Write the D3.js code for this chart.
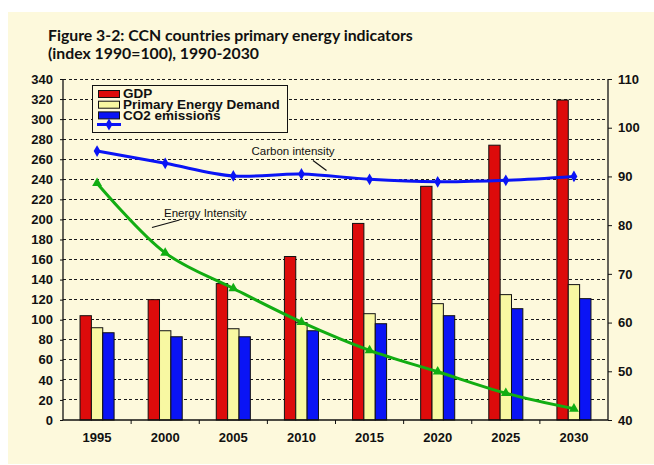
<!DOCTYPE html>
<html>
<head>
<meta charset="utf-8">
<script src="https://cdn.jsdelivr.net/npm/d3@7"></script>
<style>
  html, body { margin: 0; padding: 0; background: #ffffff; }
  svg { display: block; }
</style>
</head>
<body>
<svg id="chart" width="654" height="465"></svg>
<script>
// Years on the category axis
const years = ["1995", "2000", "2005", "2010", "2015", "2020", "2025", "2030"];

// Bar series (left axis, index 1990=100)
const gdp = [104, 120, 136, 163, 196, 233, 274, 319];
const primaryEnergyDemand = [92, 89, 91, 97, 106, 116, 125, 135];
const co2Emissions = [87, 83, 83, 89, 96, 104, 111, 121];

// Line series (right axis)
const carbonIntensity = [95.2, 92.7, 90.1, 90.5, 89.4, 88.9, 89.2, 90.0];
const energyIntensity = [88.6, 74.3, 67.0, 60.1, 54.3, 49.9, 45.5, 42.3];

// Axis ticks
const leftTicks = d3.range(0, 341, 20);
const rightTicks = d3.range(40, 111, 10);

const barSeries = [
  { name: "GDP", values: gdp, color: "#dd0b0b" },
  { name: "Primary Energy Demand", values: primaryEnergyDemand, color: "#f8f8a2" },
  { name: "CO2 emissions", values: co2Emissions, color: "#0a14f5" }
];

const svg = d3.select("#chart");
const bg = "#fdf9dc";

// Panel background
svg.append("rect").attr("x", 8).attr("y", 12).attr("width", 646).attr("height", 452).attr("fill", bg);

// Title
const title = svg.append("text")
  .attr("font-family", "Lato, 'Open Sans', sans-serif")
  .attr("font-weight", "bold")
  .attr("font-size", 15.8)
  .attr("fill", "#111");
title.append("tspan").attr("x", 48).attr("y", 41).text("Figure 3-2: CCN countries primary energy indicators");
title.append("tspan").attr("x", 48).attr("y", 58.5).text("(index 1990=100), 1990-2030");

const plotLeft = 63, plotRight = 608, plotTop = 79, plotBottom = 420;

const x0 = d3.scaleBand().domain(years).range([plotLeft, plotRight]).paddingInner(0.5).paddingOuter(0.25);
const x1 = d3.scaleBand().domain(barSeries.map(s => s.name)).range([0, x0.bandwidth()]);
const yL = d3.scaleLinear().domain([0, 340]).range([plotBottom, plotTop]);
const yR = d3.scaleLinear().domain([40, 110]).range([plotBottom, plotTop]);
const step = x0.step();
const cx = y => x0(y) + x0.bandwidth() / 2;

// Dashed gridlines at every left-axis tick
svg.append("g").selectAll("line")
  .data(leftTicks.filter(t => t > 0))
  .join("line")
  .attr("x1", plotLeft).attr("x2", plotRight)
  .attr("y1", d => yL(d)).attr("y2", d => yL(d))
  .attr("stroke", "#1a1a1a").attr("stroke-width", 1)
  .attr("stroke-dasharray", "3,2.5")
  .attr("shape-rendering", "crispEdges");

// Bars
const groups = svg.append("g").selectAll("g")
  .data(years)
  .join("g")
  .attr("transform", d => `translate(${x0(d)},0)`);

groups.selectAll("rect")
  .data((d, i) => barSeries.map(s => ({ s, v: s.values[i] })))
  .join("rect")
  .attr("x", d => x1(d.s.name))
  .attr("y", d => yL(d.v))
  .attr("width", x1.bandwidth())
  .attr("height", d => yL(0) - yL(d.v))
  .attr("fill", d => d.s.color)
  .attr("stroke", "#111")
  .attr("stroke-width", 1);

// Axes
const fontAxis = "'Liberation Sans', Arial, sans-serif";
const leftAxis = svg.append("g")
  .attr("transform", `translate(${plotLeft},0)`)
  .call(d3.axisLeft(yL).tickValues(leftTicks).tickSize(3).tickPadding(7));
const rightAxis = svg.append("g")
  .attr("transform", `translate(${plotRight},0)`)
  .call(d3.axisRight(yR).tickValues(rightTicks).tickSize(4).tickPadding(6));
const bottomAxis = svg.append("g")
  .attr("transform", `translate(0,${plotBottom})`)
  .call(d3.axisBottom(x0).tickSize(0).tickPadding(13));

[leftAxis, rightAxis, bottomAxis].forEach(g => {
  g.selectAll("text")
    .attr("font-family", fontAxis)
    .attr("font-weight", "bold")
    .attr("font-size", 13)
    .attr("fill", "#111");
  g.selectAll("line").attr("stroke", "#111");
  g.select(".domain").attr("stroke", "#111").attr("stroke-width", 1.3);
});
leftAxis.select(".domain").attr("d", `M0,${plotTop}V${plotBottom}`);
rightAxis.select(".domain").attr("d", `M0,${plotTop}V${plotBottom}`);
bottomAxis.select(".domain").attr("d", `M${plotLeft},0H${plotRight}`);

// Category separator ticks on the x axis
svg.append("g").selectAll("line")
  .data(years.slice(1))
  .join("line")
  .attr("x1", d => x0(d) - step * 0.25).attr("x2", d => x0(d) - step * 0.25)
  .attr("y1", plotBottom).attr("y2", plotBottom + 4)
  .attr("stroke", "#111");

// Line series on the right axis
const lineGen = d3.line()
  .x((d, i) => cx(years[i]))
  .y(d => yR(d))
  .curve(d3.curveCatmullRom.alpha(0.5));

svg.append("path")
  .datum(energyIntensity)
  .attr("d", lineGen)
  .attr("fill", "none")
  .attr("stroke", "#12ad12")
  .attr("stroke-width", 3);

svg.append("path")
  .datum(carbonIntensity)
  .attr("d", lineGen)
  .attr("fill", "none")
  .attr("stroke", "#0a14f5")
  .attr("stroke-width", 3);

const tri = d3.symbol().type(d3.symbolTriangle).size(42);
const dia = d3.symbol().type(d3.symbolDiamond).size(40);

svg.append("g").selectAll("path")
  .data(energyIntensity)
  .join("path")
  .attr("d", tri)
  .attr("transform", (d, i) => `translate(${cx(years[i])},${yR(d)})`)
  .attr("fill", "#12ad12");

svg.append("g").selectAll("path")
  .data(carbonIntensity)
  .join("path")
  .attr("d", dia)
  .attr("transform", (d, i) => `translate(${cx(years[i])},${yR(d)})`)
  .attr("fill", "#0a14f5");

// Annotations
const annoFont = "'Liberation Sans', Arial, sans-serif";
svg.append("text").attr("x", 251.5).attr("y", 155)
  .attr("font-family", annoFont).attr("font-size", 11.5).attr("fill", "#111")
  .text("Carbon intensity");
svg.append("line").attr("x1", 313).attr("y1", 160.5).attr("x2", 326.5).attr("y2", 170.5)
  .attr("stroke", "#111").attr("stroke-width", 1.2);
svg.append("text").attr("x", 164).attr("y", 217)
  .attr("font-family", annoFont).attr("font-size", 11.5).attr("fill", "#111")
  .text("Energy Intensity");
svg.append("line").attr("x1", 152).attr("y1", 227.5).attr("x2", 179.5).attr("y2", 220)
  .attr("stroke", "#111").attr("stroke-width", 1.2);

// Legend (rows set tightly, as in the printed figure)
const legend = svg.append("g");
legend.append("rect").attr("x", 92.5).attr("y", 85.5).attr("width", 195).attr("height", 47)
  .attr("fill", bg).attr("stroke", "#111").attr("stroke-width", 1);
const rowY = [94, 104.7, 115.4];
barSeries.forEach((s, i) => {
  legend.append("rect").attr("x", 98.5).attr("y", rowY[i] - 3.5).attr("width", 21).attr("height", 7)
    .attr("fill", s.color).attr("stroke", "#111").attr("stroke-width", 1);
  legend.append("text").attr("x", 123).attr("y", rowY[i] + 4.2)
    .attr("font-family", fontAxis).attr("font-weight", "bold").attr("font-size", 13.5)
    .attr("fill", "#111").text(s.name);
});
legend.append("line").attr("x1", 97).attr("x2", 121).attr("y1", 124.5).attr("y2", 124.5)
  .attr("stroke", "#0a14f5").attr("stroke-width", 3);
legend.append("path").attr("d", dia).attr("transform", "translate(109,124.5)").attr("fill", "#0a14f5");
</script>
</body>
</html>
